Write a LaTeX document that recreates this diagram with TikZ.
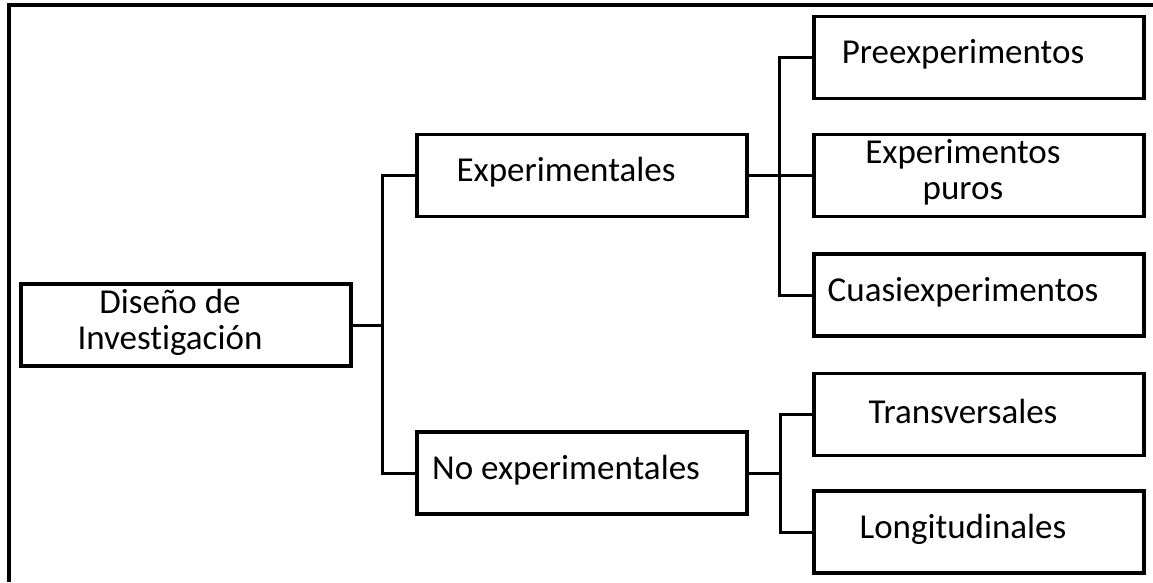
\documentclass[tikz,border=0pt]{standalone}
\usepackage{fontspec}
\setmainfont{Carlito}[Ligatures=NoCommon]
\usetikzlibrary{calc,positioning}

\begin{document}
\begin{tikzpicture}[x=1pt,y=-1pt,
    caja/.style={draw,line width=3.5pt,minimum width=330pt,minimum height=82pt,inner sep=0pt},
    txt/.style={xshift=-16pt,yshift=3pt,align=center,font=\fontsize{35}{36}\selectfont},
    rama/.style={line width=3pt}]
  \useasboundingbox (0,0) rectangle (1153,582);
  \draw[line width=4.5pt] (1153,5) -- (9,5) -- (9,582);
  \node[caja,label={[txt]center:Diseño de\\Investigación}](disenio)at(186,325){};
  \node[caja,label={[txt]center:Experimentales}](exper)at(582,175.5){};
  \node[caja,label={[txt]center:No experimentales}](noexper)at(582,473){};
  \node[caja,label={[txt]center:Preexperimentos}](pre)at(979,57.5){};
  \node[caja,label={[txt]center:Experimentos\\puros}](puros)at(979,175.5){};
  \node[caja,label={[txt]center:Cuasiexperimentos}](cuasi)at(979,295){};
  \node[caja,label={[txt]center:Transversales}](trans)at(979,414.5){};
  \node[caja,label={[txt]center:Longitudinales}](longi)at(979,532){};
  \draw[rama] (disenio.east) -- ++(31,0);
  \draw[rama] (exper.west) -- ++(-33,0) |- (noexper.west);
  \draw[rama] (exper.east) -- (puros.west);
  \draw[rama] (pre.west) -- ++(-33,0) |- (cuasi.west);
  \draw[rama] (noexper.east) -- ++(33,0);
  \draw[rama] (trans.west) -- ++(-32,0) |- (longi.west);
\end{tikzpicture}
\end{document}
